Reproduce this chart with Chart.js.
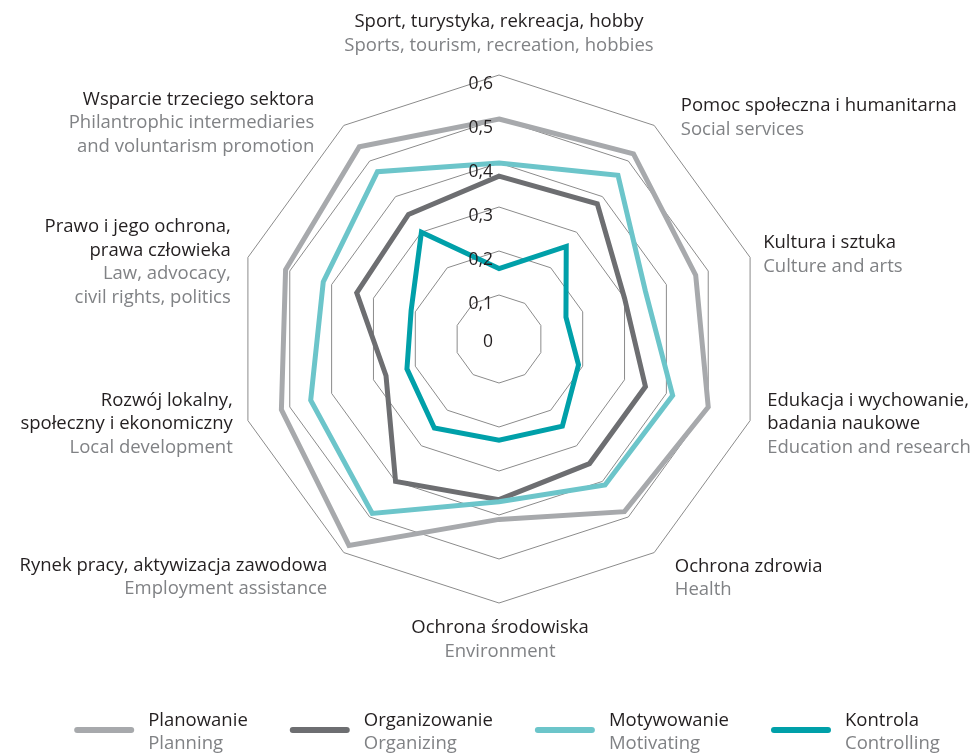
<!DOCTYPE html>
<html>
<head>
<meta charset="utf-8">
<script src="https://cdn.jsdelivr.net/npm/chart.js@4"></script>
<style>
  html, body { margin: 0; padding: 0; background: #fff; }
  #wrap { position: relative; width: 979px; height: 754px; }
</style>
</head>
<body>
<div id="wrap"><canvas id="radar"></canvas></div>
<script>
// Category labels, clockwise from the top (Polish line + English line)
var CAT_PL = [
  ['Sport, turystyka, rekreacja, hobby'],
  ['Pomoc społeczna i humanitarna'],
  ['Kultura i sztuka'],
  ['Edukacja i wychowanie,', 'badania naukowe'],
  ['Ochrona zdrowia'],
  ['Ochrona środowiska'],
  ['Rynek pracy, aktywizacja zawodowa'],
  ['Rozwój lokalny,', 'społeczny i ekonomiczny'],
  ['Prawo i jego ochrona,', 'prawa człowieka'],
  ['Wsparcie trzeciego sektora']
];
var CAT_EN = [
  ['Sports, tourism, recreation, hobbies'],
  ['Social services'],
  ['Culture and arts'],
  ['Education and research'],
  ['Health'],
  ['Environment'],
  ['Employment assistance'],
  ['Local development'],
  ['Law, advocacy,', 'civil rights, politics'],
  ['Philantrophic intermediaries', 'and voluntarism promotion']
];

var PLANOWANIE    = [0.50, 0.52, 0.47, 0.50, 0.485, 0.41, 0.58, 0.52, 0.51, 0.54];
var ORGANIZOWANIE = [0.37, 0.38, 0.30, 0.35, 0.35, 0.365, 0.40, 0.27, 0.34, 0.35];
var MOTYWOWANIE   = [0.40, 0.46, 0.35, 0.415, 0.41, 0.37, 0.49, 0.45, 0.42, 0.47];
var KONTROLA      = [0.16, 0.26, 0.16, 0.19, 0.245, 0.23, 0.25, 0.22, 0.21, 0.30];

var SERIES_PL = ['Planowanie', 'Organizowanie', 'Motywowanie', 'Kontrola'];
var SERIES_EN = ['Planning', 'Organizing', 'Motivating', 'Controlling'];

var TICK_VALUES = [0, 0.1, 0.2, 0.3, 0.4, 0.5, 0.6];
var TICK_LABELS = ['0', '0,1', '0,2', '0,3', '0,4', '0,5', '0,6'];

var COLORS = ['#a7a9ac', '#6d6e71', '#6cc5ca', '#00a0a9'];
var DARK = '#231f20';
var GREY = '#808285';
var FONT = '18.5px "Open Sans", sans-serif';
var TICK_FONT = '17.5px "Open Sans", sans-serif';
var LINE_H = 23.5;

// per-category label placement: text alignment, block anchoring, small nudges
var LABEL_LAYOUT = [
  { align: 'center', v: 'bottom', dx: 0,   dy: 0 },
  { align: 'left',   v: 'middle', dx: 16,  dy: 7 },
  { align: 'left',   v: 'middle', dx: -4,  dy: 3 },
  { align: 'left',   v: 'middle', dx: 0,   dy: -2 },
  { align: 'left',   v: 'middle', dx: 10,  dy: 11 },
  { align: 'center', v: 'top',    dx: 1,   dy: -5 },
  { align: 'right',  v: 'middle', dx: -6,  dy: 10 },
  { align: 'right',  v: 'middle', dx: 2,   dy: -2 },
  { align: 'right',  v: 'middle', dx: 0,   dy: 10.5 },
  { align: 'right',  v: 'middle', dx: -19, dy: 12 }
];

var labelsPlugin = {
  id: 'catLabels',
  afterDraw: function (chart) {
    var ctx = chart.ctx;
    var r = chart.scales.r;
    ctx.save();
    ctx.textBaseline = 'middle';

    // tick labels, set a little left of and below the ring tops
    ctx.font = TICK_FONT;
    ctx.textAlign = 'right';
    ctx.fillStyle = DARK;
    r.ticks.forEach(function (t, i) {
      var d = r.getDistanceFromCenterForValue(t.value);
      var off = t.value === 0 ? 3 : 9;
      ctx.fillText(TICK_LABELS[i], r.xCenter - 6, r.yCenter - d + off);
    });

    // category labels
    ctx.font = FONT;
    for (var i = 0; i < CAT_PL.length; i++) {
      var p = r.getPointPosition(i, r.drawingArea + 18);
      var lay = LABEL_LAYOUT[i];
      var lines = CAT_PL[i].map(function (s) { return [s, DARK]; })
        .concat(CAT_EN[i].map(function (s) { return [s, GREY]; }));
      var h = lines.length * LINE_H;
      var top;
      if (lay.v === 'bottom') top = p.y - h;
      else if (lay.v === 'top') top = p.y;
      else top = p.y - h / 2;
      top += lay.dy;
      ctx.textAlign = lay.align;
      lines.forEach(function (ln, k) {
        ctx.fillStyle = ln[1];
        ctx.fillText(ln[0], p.x + lay.dx, top + LINE_H * (k + 0.5));
      });
    }

    // legend
    var sampleW = 60, gap = 14, itemGap = 42;
    var widths = SERIES_PL.map(function (s, i) {
      return Math.max(ctx.measureText(s).width, ctx.measureText(SERIES_EN[i]).width);
    });
    var total = widths.reduce(function (a, w) { return a + sampleW + gap + w; }, 0) + itemGap * (widths.length - 1);
    var x = 507 - total / 2;
    var yLine = 730;
    ctx.textAlign = 'left';
    SERIES_PL.forEach(function (s, i) {
      ctx.strokeStyle = COLORS[i];
      ctx.lineWidth = 6;
      ctx.lineCap = 'round';
      ctx.beginPath();
      ctx.moveTo(x + 3, yLine);
      ctx.lineTo(x + sampleW - 3, yLine);
      ctx.stroke();
      ctx.fillStyle = DARK;
      ctx.fillText(s, x + sampleW + gap, 721);
      ctx.fillStyle = GREY;
      ctx.fillText(SERIES_EN[i], x + sampleW + gap, 744);
      x += sampleW + gap + widths[i] + itemGap;
    });
    ctx.restore();
  }
};

function ds(label, values, color, order) {
  return {
    label: label,
    data: values,
    borderColor: color,
    backgroundColor: color,
    borderWidth: 5,
    borderJoinStyle: 'miter',
    fill: false,
    tension: 0,
    pointRadius: 0,
    pointHoverRadius: 0,
    order: order
  };
}

new Chart(document.getElementById('radar'), {
  type: 'radar',
  data: {
    labels: CAT_PL.map(function (l) { return l.join(' '); }),
    datasets: [
      ds(SERIES_PL[0], PLANOWANIE, COLORS[0], 4),
      ds(SERIES_PL[1], ORGANIZOWANIE, COLORS[1], 3),
      ds(SERIES_PL[2], MOTYWOWANIE, COLORS[2], 2),
      ds(SERIES_PL[3], KONTROLA, COLORS[3], 1)
    ]
  },
  options: {
    responsive: true,
    maintainAspectRatio: false,
    animation: false,
    devicePixelRatio: 1,
    layout: { padding: { top: 75, bottom: 151, left: 20, right: 0 } },
    plugins: {
      legend: { display: false },
      tooltip: { enabled: false }
    },
    scales: {
      r: {
        min: 0,
        max: 0.6,
        afterBuildTicks: function (scale) {
          scale.ticks = TICK_VALUES.map(function (v) { return { value: v }; });
        },
        ticks: { display: false },
        pointLabels: { display: false },
        angleLines: { display: false },
        grid: { color: '#8b8b8b', lineWidth: 1 }
      }
    }
  },
  plugins: [labelsPlugin]
});
</script>
</body>
</html>
